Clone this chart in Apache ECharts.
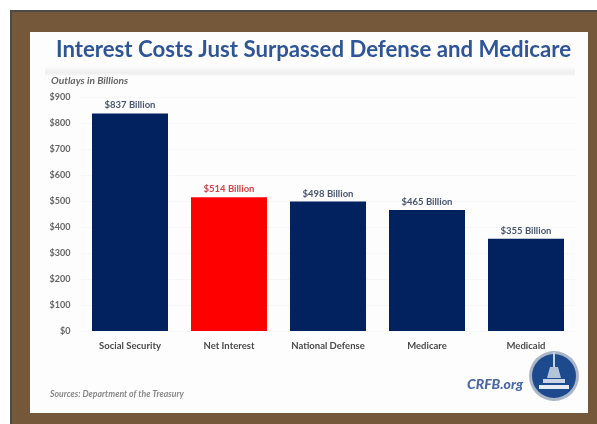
<!DOCTYPE html>
<html>
<head>
<meta charset="utf-8">
<style>html,body{margin:0;padding:0;background:#fff}#c{width:597px;height:424px}</style>
<script src="https://cdn.jsdelivr.net/npm/echarts@6/dist/echarts.min.js"></script>
</head>
<body>
<div id="c"></div>
<script>
// Federal outlays by program, in billions of dollars
const categories = ['Social Security', 'Net Interest', 'National Defense', 'Medicare', 'Medicaid'];
const outlays = [837, 514, 498, 465, 355];
const highlighted = 'Net Interest';
const titleText = 'Interest Costs Just Surpassed Defense and Medicare';
const unitText = 'Outlays in Billions';
const sourceText = 'Sources: Department of the Treasury';
const brandText = 'CRFB.org';

const NAVY = '#02215f', RED = '#fe0000', BLUE = '#2f5597', INK = '#4a4a4a';

const chart = echarts.init(document.getElementById('c'), null, {renderer: 'canvas'});
chart.setOption({
  animation: false,
  backgroundColor: '#ffffff',
  grid: {left: 80.5, right: 21.5, top: 97, bottom: 93, containLabel: false},
  xAxis: {
    type: 'category', data: categories,
    axisLine: {show: false}, axisTick: {show: false},
    axisLabel: {color: INK, fontFamily: 'Lato', fontSize: 9.5, fontWeight: 700, margin: 10}
  },
  yAxis: {
    type: 'value', min: 0, max: 900, interval: 100,
    axisLine: {show: false}, axisTick: {show: false},
    axisLabel: {color: '#666', fontFamily: 'Lato', fontSize: 9, fontWeight: 700, margin: 10,
      formatter: v => '$' + v},
    splitLine: {lineStyle: {color: '#f7f7f7', width: 1}}
  },
  series: [{
    type: 'bar', barWidth: 76, z: 5,
    data: categories.map((name, i) => ({
      value: outlays[i],
      itemStyle: {color: name === highlighted ? RED : NAVY},
      label: {color: name === highlighted ? '#d0454a' : '#4a5670'}
    })),
    label: {
      show: true, position: 'top', distance: 3,
      fontFamily: 'Lato', fontSize: 9.5, fontWeight: 700,
      formatter: p => '$' + p.value + ' Billion'
    }
  }],
  graphic: [
    // Frame and panel sit behind the plot
    {type: 'rect', z: -10, silent: true, shape: {x: 10, y: 10, width: 600, height: 420},
      style: {fill: '#75573a'}},
    {type: 'rect', z: -9, silent: true, shape: {x: 10, y: 10, width: 600, height: 2},
      style: {fill: '#4b4b48'}},
    {type: 'rect', z: -9, silent: true, shape: {x: 10, y: 10, width: 2, height: 420},
      style: {fill: '#4b4b48'}},
    {type: 'rect', z: -8, silent: true, shape: {x: 30, y: 32, width: 558, height: 381},
      style: {fill: '#fdfdfd'}},
    // Soft band below the heading
    {type: 'rect', z: -7, silent: true, shape: {x: 45, y: 66, width: 530, height: 10},
      style: {fill: new echarts.graphic.LinearGradient(0, 0, 0, 1, [
        {offset: 0, color: '#fdfdfd'}, {offset: 0.7, color: '#eeeeee'}, {offset: 1, color: '#fbfbfb'}
      ])}},
    {type: 'text', z: 10, silent: true, style: {x: 56, y: 39, text: titleText, fill: BLUE,
      font: '700 22.2px "Lato"'}},
    {type: 'text', z: 10, silent: true, style: {x: 51, y: 76, text: unitText, fill: '#666',
      font: 'italic 700 10.2px "Lato"'}},
    {type: 'text', z: 10, silent: true, style: {x: 50, y: 390, text: sourceText, fill: '#888',
      font: 'italic 700 8.7px "Lato"'}},
    {type: 'text', z: 10, silent: true, style: {x: 467, y: 377, text: brandText, fill: '#4a68a6',
      font: 'italic 900 14px "Lato"'}},
    // Round seal with a capitol silhouette
    {type: 'circle', z: 10, silent: true, shape: {cx: 554, cy: 376, r: 25},
      style: {fill: '#aab5c8'}},
    {type: 'circle', z: 11, silent: true, shape: {cx: 554, cy: 376, r: 22},
      style: {fill: '#1d4a8c'}},
    {type: 'rect', z: 12, silent: true, shape: {x: 553, y: 352, width: 2, height: 15},
      style: {fill: '#c4d0e4'}},
    {type: 'polygon', z: 12, silent: true, shape: {points: [[547, 378], [550, 367], [558, 367], [561, 378]]},
      style: {fill: '#b4c2da'}},
    {type: 'rect', z: 12, silent: true, shape: {x: 543, y: 379, width: 22, height: 4},
      style: {fill: '#c9d4e6'}},
    {type: 'rect', z: 12, silent: true, shape: {x: 539, y: 385, width: 30, height: 4},
      style: {fill: '#e6ebf3'}}
  ]
});
</script>
</body>
</html>
